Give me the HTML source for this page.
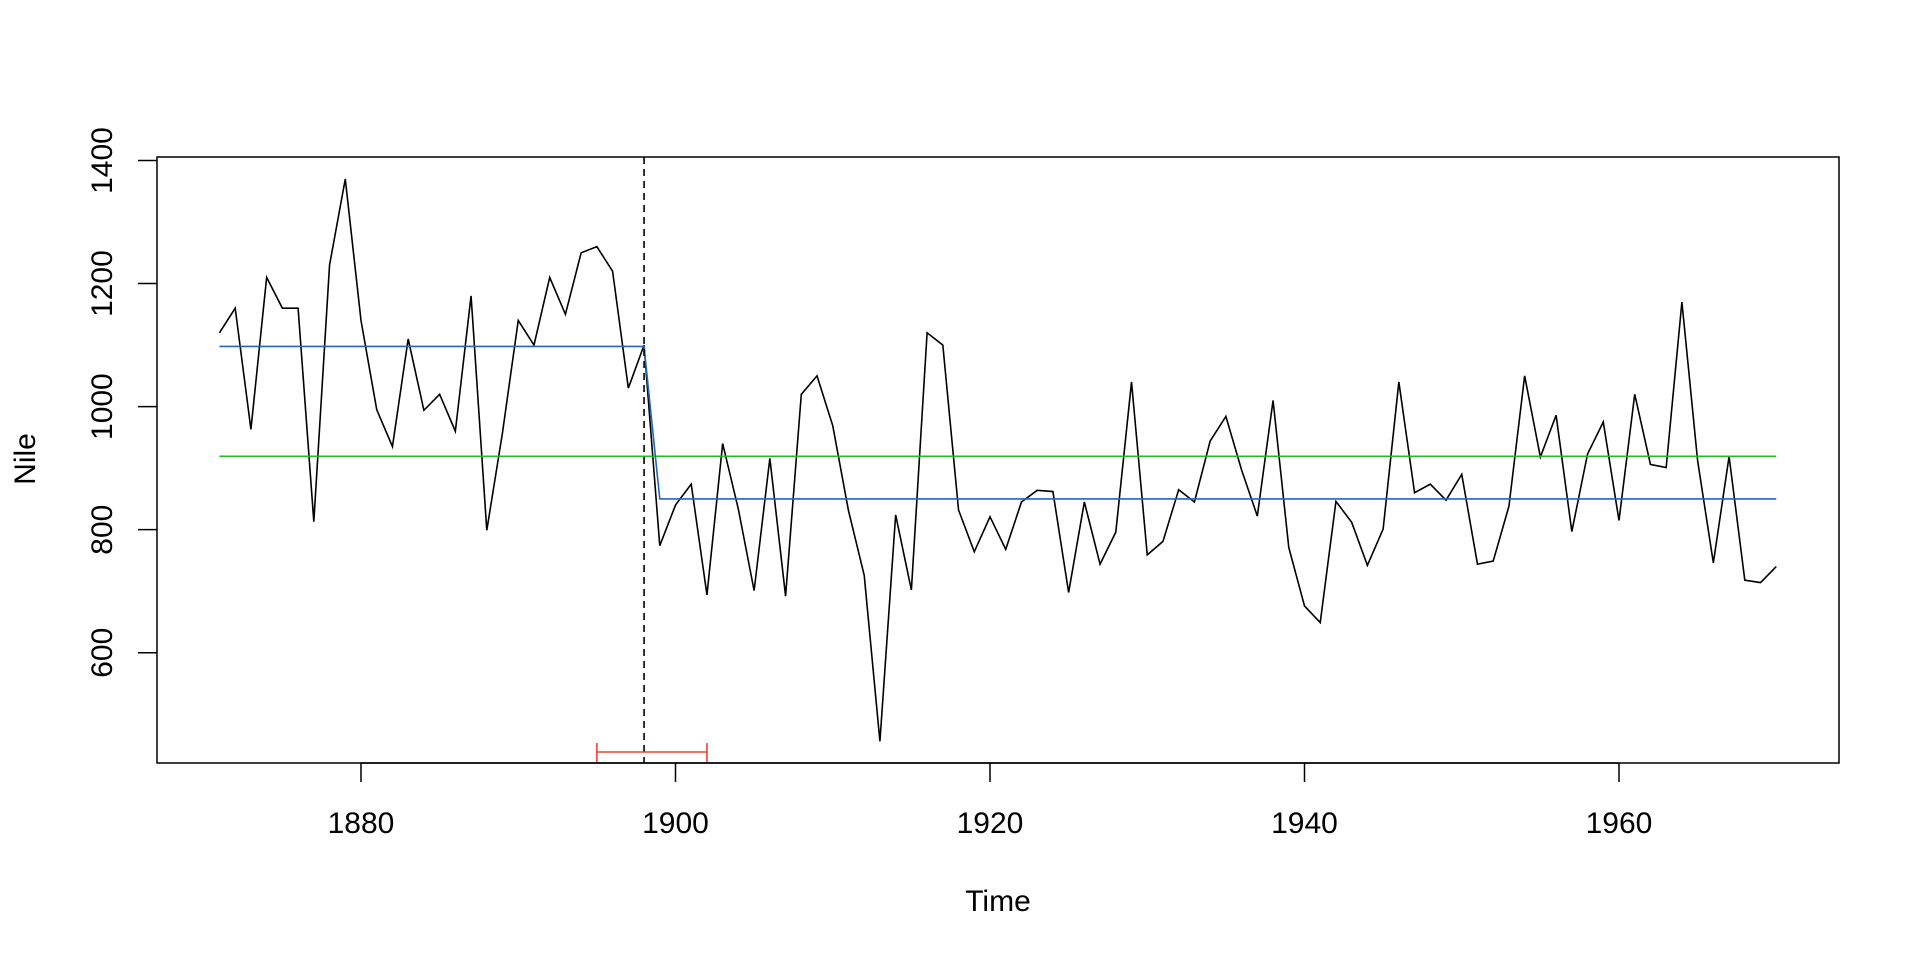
<!DOCTYPE html>
<html><head><meta charset="utf-8"><style>
html,body{margin:0;padding:0;background:#fff;}
svg{display:block;font-family:"Liberation Sans",Arial,sans-serif;}
</style></head><body>
<svg id="s" width="1920" height="960" xmlns="http://www.w3.org/2000/svg">
<rect x="157" y="157" width="1682" height="606" fill="none" stroke="#000" stroke-width="1.5"/>
<g id="g"></g>
</svg>
<script>
var d=[1120,1160,963,1210,1160,1160,813,1230,1370,1140,995,935,1110,994,1020,960,1180,799,958,1140,1100,1210,1150,1250,1260,1220,1030,1100,774,840,874,694,940,833,701,916,692,1020,1050,969,831,726,456,824,702,1120,1100,832,764,821,768,845,864,862,698,845,744,796,1040,759,781,865,845,944,984,897,822,1010,771,676,649,846,812,742,801,1040,860,874,848,890,744,749,838,1050,918,986,797,923,975,815,1020,906,901,1170,912,746,919,718,714,740];
function X(y){return 361+(y-1880)*15.725;}
function Y(v){return 160.5+(1400-v)*0.6153;}
var h='';
var p=d.map(function(v,i){return X(1871+i).toFixed(2)+','+Y(v).toFixed(2);}).join(' ');
h+='<polyline points="'+p+'" fill="none" stroke="#000" stroke-width="1.6"/>';
var m=d.reduce(function(a,b){return a+b},0)/d.length;
h+='<line x1="'+X(1871)+'" x2="'+X(1970)+'" y1="'+Y(m)+'" y2="'+Y(m)+'" stroke="#22bb22" stroke-width="1.6"/>';
var m1=0;for(var i=0;i<28;i++)m1+=d[i];m1/=28;var m2=0;for(i=28;i<100;i++)m2+=d[i];m2/=72;
h+='<polyline points="'+X(1871)+','+Y(m1)+' '+X(1898)+','+Y(m1)+' '+X(1899)+','+Y(m2)+' '+X(1970)+','+Y(m2)+'" fill="none" stroke="#2266bb" stroke-width="1.6"/>';
h+='<line x1="'+X(1898)+'" x2="'+X(1898)+'" y1="157" y2="763" stroke="#000" stroke-width="1.6" stroke-dasharray="7,5"/>';
var ry=752;
h+='<g stroke="#ee4035" stroke-width="1.6"><line x1="'+X(1895)+'" x2="'+X(1902)+'" y1="'+ry+'" y2="'+ry+'"/><line x1="'+X(1895)+'" x2="'+X(1895)+'" y1="'+(ry-9)+'" y2="'+(ry+10)+'"/><line x1="'+X(1902)+'" x2="'+X(1902)+'" y1="'+(ry-9)+'" y2="'+(ry+10)+'"/></g>';
[1880,1900,1920,1940,1960].forEach(function(t){var x=X(t);h+='<line x1="'+x+'" x2="'+x+'" y1="763" y2="782" stroke="#000" stroke-width="1.5"/><text x="'+x+'" y="833" font-size="30" text-anchor="middle">'+t+'</text>';});
h+='<line x1="'+X(1880)+'" x2="'+X(1960)+'" y1="763" y2="763" stroke="#000" stroke-width="1.5"/>';
[600,800,1000,1200,1400].forEach(function(t){var y=Y(t);h+='<line x1="138" x2="157" y1="'+y+'" y2="'+y+'" stroke="#000" stroke-width="1.5"/><text transform="translate(112,'+y+') rotate(-90)" font-size="30" text-anchor="middle">'+t+'</text>';});
h+='<text x="998" y="911" font-size="30" text-anchor="middle">Time</text>';
h+='<text transform="translate(35,459) rotate(-90)" font-size="30" text-anchor="middle">Nile</text>';
document.getElementById('g').innerHTML=h;
</script>
</body></html>
